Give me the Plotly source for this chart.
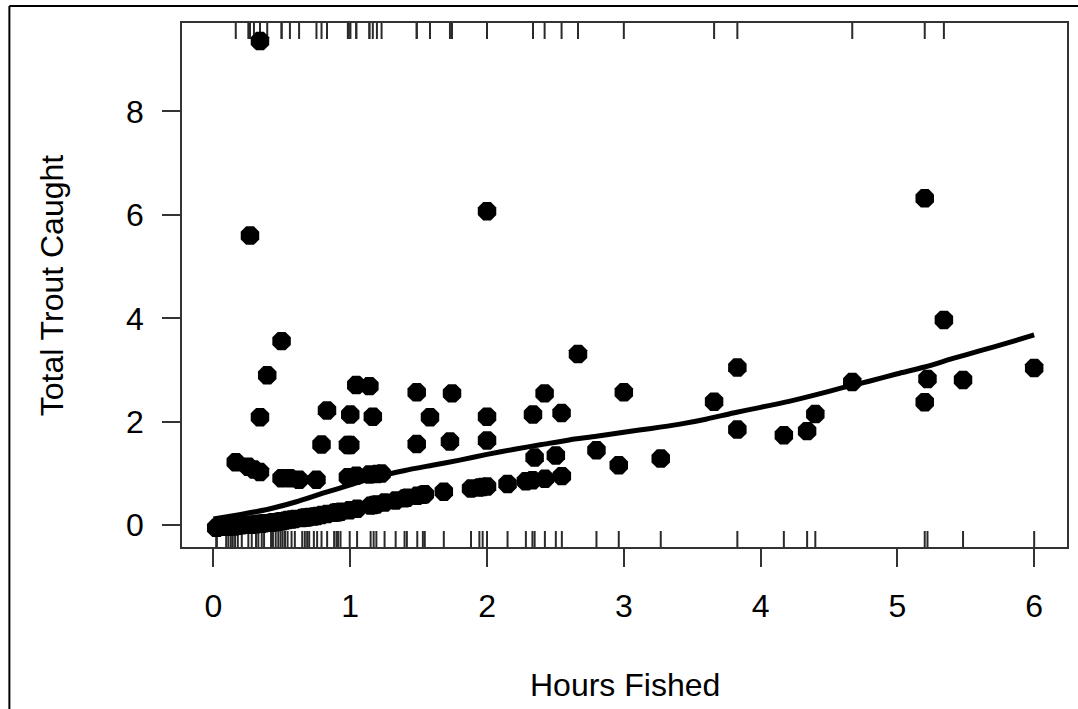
import numpy as np
import plotly.graph_objects as go

# Anglers: hours fished and total trout caught
hours = [
    # catches above the smooth
    0.163, 0.255, 0.267, 0.296, 0.34, 0.34, 0.34, 0.393, 0.498, 0.498,
    0.559, 0.626, 0.753, 0.79, 0.83, 0.983, 0.983, 1.0, 1.0, 1.044,
    1.044, 1.14, 1.14, 1.165, 1.195, 1.229, 1.486, 1.486, 1.583, 1.729,
    1.744, 2.0, 2.0, 2.0, 2.336, 2.421, 2.545, 2.665, 3.0, 3.66,
    3.83, 4.67, 5.2, 5.34,
    # low catches
    0.02, 0.025, 0.093, 0.109, 0.127, 0.141, 0.158, 0.178, 0.207, 0.255,
    0.280, 0.311, 0.328, 0.353, 0.370, 0.421, 0.435, 0.455, 0.474, 0.491,
    0.506, 0.523, 0.542, 0.571, 0.595, 0.649, 0.668, 0.685, 0.700, 0.734,
    0.758, 0.790, 0.831, 0.882, 0.899, 0.911, 0.929, 0.996, 1.050, 1.149,
    1.171, 1.191, 1.251, 1.332, 1.397, 1.414, 1.490, 1.531, 1.545, 1.684,
    1.883, 1.944, 1.968, 2.0, 2.150, 2.284, 2.332, 2.423, 2.547,
    # remaining catches below the smooth
    2.348, 2.503, 2.80, 2.963, 3.27, 3.83, 4.17, 4.34, 4.40, 5.20,
    5.22, 5.48, 6.0,
]
trout = [
    1.22, 1.13, 5.60, 1.08, 9.36, 2.09, 1.03, 2.90, 3.56, 0.91,
    0.91, 0.88, 0.88, 1.56, 2.22, 1.55, 0.93, 2.14, 1.55, 2.71,
    0.96, 2.69, 0.98, 2.10, 0.99, 1.00, 2.57, 1.57, 2.09, 1.62,
    2.55, 6.07, 2.10, 1.64, 2.14, 2.55, 2.17, 3.31, 2.57, 2.39,
    3.05, 2.77, 6.32, 3.97,
    -0.05, -0.05, -0.03, -0.03, -0.02, -0.02, -0.02, -0.01, 0.00, 0.01,
    0.01, 0.02, 0.03, 0.03, 0.04, 0.05, 0.06, 0.06, 0.07, 0.08,
    0.08, 0.09, 0.10, 0.11, 0.12, 0.14, 0.15, 0.15, 0.16, 0.17,
    0.18, 0.20, 0.22, 0.24, 0.25, 0.25, 0.26, 0.29, 0.32, 0.38,
    0.39, 0.40, 0.44, 0.48, 0.52, 0.53, 0.57, 0.59, 0.60, 0.65,
    0.71, 0.73, 0.74, 0.75, 0.80, 0.85, 0.87, 0.90, 0.95,
    1.31, 1.35, 1.45, 1.16, 1.29, 1.85, 1.74, 1.82, 2.15, 2.38,
    2.83, 2.81, 3.04,
]

# Smoothed trend of catch against effort
smooth_x = [0.0, 0.2, 0.4, 0.6, 0.8, 1.0, 1.2, 1.4, 1.6, 1.8, 2.0, 2.2, 2.4,
            2.6, 2.8, 3.0, 3.2, 3.4, 3.6, 3.8, 4.0, 4.2, 4.4, 4.6, 4.8, 5.0,
            5.2, 5.4, 5.6, 5.8, 6.0]
smooth_y = [0.12, 0.21, 0.31, 0.45, 0.62, 0.78, 0.94, 1.06, 1.16, 1.26, 1.37,
            1.47, 1.56, 1.65, 1.72, 1.80, 1.87, 1.95, 2.05, 2.17, 2.28, 2.39,
            2.52, 2.66, 2.79, 2.93, 3.06, 3.22, 3.37, 3.52, 3.68]

x_ticks = [0, 1, 2, 3, 4, 5, 6]
y_ticks = [0, 2, 4, 6, 8]

X_RANGE = [-0.23, 6.24]
Y_RANGE = [-0.42, 9.71]

# Figure geometry (pixels)
W, H = 1078, 709
M_L, M_R, M_T, M_B = 182, 9, 23, 162
plot_h = H - M_T - M_B
plot_w = W - M_L - M_R
RUG_PX = 16
rug_len = RUG_PX * (Y_RANGE[1] - Y_RANGE[0]) / plot_h

# Residual sign decides which side the rug mark goes on
hx = np.array(hours)
ty = np.array(trout)
fitted = np.interp(hx, smooth_x, smooth_y)
above = ty > fitted


def rug_segments(xs, y0, y1):
    rx, ry = [], []
    for v in xs:
        rx += [v, v, None]
        ry += [y0, y1, None]
    return rx, ry


top_x, top_y = rug_segments(hx[above], Y_RANGE[1], Y_RANGE[1] - rug_len)
bot_x, bot_y = rug_segments(hx[~above], Y_RANGE[0], Y_RANGE[0] + rug_len)

FONT = "Liberation Sans, Arial, sans-serif"
FS = 32
RUG_COLOR = "#2a2a2a"

fig = go.Figure()
fig.add_trace(go.Scatter(x=top_x, y=top_y, mode="lines",
                         line=dict(color=RUG_COLOR, width=2),
                         hoverinfo="skip", showlegend=False, cliponaxis=False))
fig.add_trace(go.Scatter(x=bot_x, y=bot_y, mode="lines",
                         line=dict(color=RUG_COLOR, width=2),
                         hoverinfo="skip", showlegend=False, cliponaxis=False))
fig.add_trace(go.Scatter(x=hours, y=trout, mode="markers",
                         marker=dict(symbol="octagon", size=20, color="black",
                                     line=dict(width=0)),
                         showlegend=False))
fig.add_trace(go.Scatter(x=smooth_x, y=smooth_y, mode="lines",
                         line=dict(color="black", width=5, shape="spline",
                                   smoothing=0.6),
                         showlegend=False))

axis_common = dict(
    showgrid=False, zeroline=False, showline=True, mirror=True,
    linecolor="#333333", linewidth=1.5,
    ticks="outside", ticklen=18, tickwidth=1.5, tickcolor="#333333",
    tickfont=dict(family=FONT, size=FS, color="black"),
)

fig.update_layout(
    width=W, height=H,
    margin=dict(l=M_L, r=M_R, t=M_T, b=M_B, pad=0),
    paper_bgcolor="white", plot_bgcolor="white",
    xaxis=dict(range=X_RANGE, tickvals=x_ticks,
               ticktext=[str(v) for v in x_ticks],
               ticklabelstandoff=12, **axis_common),
    yaxis=dict(range=Y_RANGE, tickvals=y_ticks,
               ticktext=[str(v) for v in y_ticks],
               ticklabelstandoff=12, **axis_common),
)


def px_to_paper_x(px):
    return (px - M_L) / plot_w


def px_to_paper_y(py):
    return (H - M_B - py) / plot_h


fig.add_annotation(text="Hours Fished", xref="paper", yref="paper",
                   x=px_to_paper_x(625.5), y=px_to_paper_y(685),
                   xanchor="center", yanchor="middle", showarrow=False,
                   font=dict(family=FONT, size=FS, color="black"))
fig.add_annotation(text="Total Trout Caught", xref="paper", yref="paper",
                   x=px_to_paper_x(52), y=px_to_paper_y(285),
                   xanchor="center", yanchor="middle", textangle=-90,
                   showarrow=False,
                   font=dict(family=FONT, size=FS, color="black"))

# Outer frame (left and top edges)
frame_left = px_to_paper_x(9)
frame_top = px_to_paper_y(6)
fig.add_shape(type="line", xref="paper", yref="paper",
              x0=frame_left, x1=frame_left, y0=frame_top, y1=-1,
              line=dict(color="black", width=2))
fig.add_shape(type="line", xref="paper", yref="paper",
              x0=frame_left, x1=2, y0=frame_top, y1=frame_top,
              line=dict(color="black", width=2))

fig.write_html("out.html")
